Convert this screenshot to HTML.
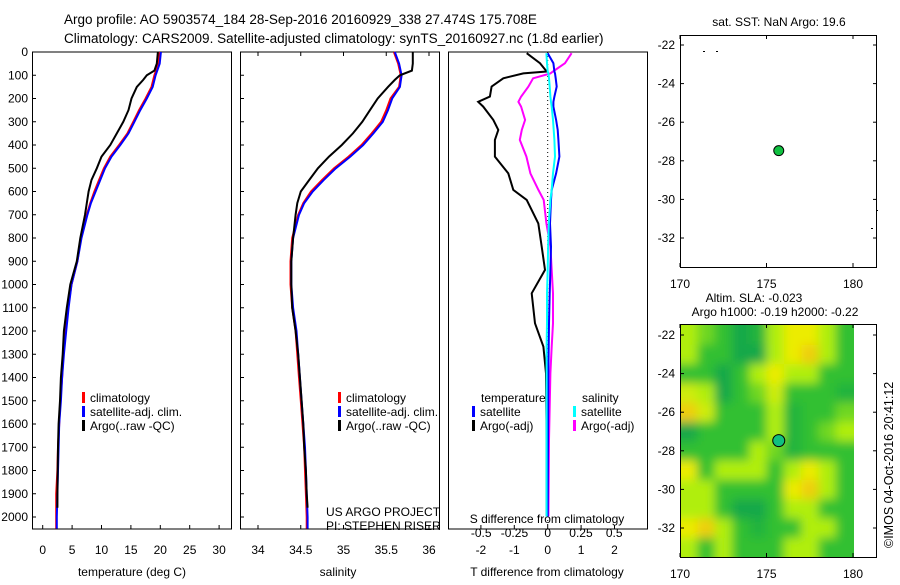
<!DOCTYPE html>
<html><head><meta charset="utf-8"><style>
body{margin:0;background:#fff;width:900px;height:580px;overflow:hidden}
svg text{font-family:"Liberation Sans",sans-serif;font-size:12px;fill:#000}
</style></head><body>
<svg id="c" width="900" height="580" xmlns="http://www.w3.org/2000/svg">
<text x="64" y="24" style="font-size:13.5px">Argo profile: AO 5903574_184 28-Sep-2016 20160929_338 27.474S 175.708E</text>
<text x="64" y="43" style="font-size:13.5px">Climatology: CARS2009. Satellite-adjusted climatology: synTS_20160927.nc (1.8d earlier)</text>
<text transform="translate(893,548) rotate(-90)" style="font-size:12.5px">©IMOS 04-Oct-2016 20:41:12</text>
</svg>
<script>
// ---- data ----
const depths=[0,50,100,150,200,250,300,350,400,450,500,550,600,650,700,800,900,1000,1100,1200,1300,1400,1500,1600,1700,1800,1900,2000,2050];
const tempSat=[20.1,19.9,19.2,18.7,17.7,16.6,15.6,14.6,13.2,11.7,10.6,9.8,9.0,8.2,7.6,6.6,5.9,4.9,4.4,4.0,3.6,3.3,3.1,2.8,2.7,2.6,2.5,2.4,2.4];
const tempClim=[19.9,19.7,19.0,18.5,17.5,16.4,15.4,14.4,13.0,11.5,10.4,9.6,8.8,8.1,7.5,6.5,5.9,4.9,4.3,3.9,3.5,3.3,3.0,2.8,2.6,2.5,2.3,2.3,2.3];
const argoDepths=[0,50,80,100,120,150,200,250,300,350,400,450,500,550,600,650,700,800,900,1000,1100,1200,1300,1400,1500,1600,1700,1800,1900,1960];
const tempArgo=[19.6,19.4,19.0,17.7,17.1,16.0,15.1,14.6,13.7,12.6,11.5,10.0,9.2,8.3,7.8,7.5,7.2,6.4,5.8,4.7,4.1,3.6,3.4,3.1,2.95,2.7,2.6,2.55,2.5,2.5];
const salSat=[35.6,35.65,35.68,35.66,35.57,35.52,35.46,35.35,35.23,35.08,34.91,34.77,34.64,34.54,34.48,34.41,34.39,34.39,34.41,34.45,34.47,34.49,34.51,34.53,34.55,34.56,34.57,34.58,34.58];
const salClim=[35.59,35.64,35.67,35.65,35.55,35.50,35.44,35.33,35.21,35.06,34.89,34.75,34.62,34.53,34.47,34.4,34.38,34.38,34.40,34.44,34.46,34.48,34.50,34.52,34.54,34.55,34.56,34.57,34.57];
const salArgo=[35.81,35.81,35.80,35.66,35.6,35.52,35.40,35.31,35.22,35.11,34.98,34.83,34.70,34.6,34.5,34.46,34.44,34.41,34.39,34.39,34.40,34.44,34.47,34.49,34.51,34.53,34.54,34.56,34.57,34.58];
const diffDepths=[5,48,84,92,113,149,192,214,235,292,335,378,450,522,593,636,737,837,937,1038,1167,1267,1382,1668,1998];
const tDiffArgo=[-0.63,-0.23,-0.03,-0.73,-1.33,-1.68,-1.73,-2.08,-1.93,-1.63,-1.48,-1.58,-1.58,-1.18,-1.03,-0.63,-0.28,-0.18,-0.08,-0.48,-0.38,-0.13,-0.05,-0.03,-0.03];
const tDiffSat=[0,0.17,0.2,0.22,0.24,0.27,0.2,0.17,0.17,0.25,0.3,0.32,0.35,0.25,0.12,0.1,0.07,0.1,0.08,0.06,0.04,0.03,0.02,0.01,0];
const sDiffSat=[-0.01,-0.005,0,0.005,0.01,0.015,0.02,0.025,0.03,0.04,0.045,0.05,0.055,0.04,0.03,0.02,0.008,0.003,0,-0.005,-0.005,-0.008,-0.008,-0.008,-0.008];
const sDiffArgo=[0.18,0.13,0.04,0.02,-0.11,-0.145,-0.2,-0.22,-0.2,-0.17,-0.195,-0.21,-0.16,-0.13,-0.07,-0.03,-0.01,0.02,0.03,0.04,0.04,0.03,0.02,0.01,0.005];
const depthTicks=[0,100,200,300,400,500,600,700,800,900,1000,1100,1200,1300,1400,1500,1600,1700,1800,1900,2000];
const tempTicks=[0,5,10,15,20,25,30];
const salTicks=[34,34.5,35,35.5,36];
const tDiffTicks=[-2,-1,0,1,2];
const sDiffTicks=[-0.5,-0.25,0,0.25,0.5];
const lonTicks=[170,175,180];
const latTicks=[-22,-24,-26,-28,-30,-32];
const floatLon=175.708, floatLat=-27.474;
const slaLons=[170.5,171.5,172.5,173.5,174.5,175.5,176.5,177.5,178.5,179.5];
const slaLats=[-22,-23,-24,-25,-26,-27,-28,-29,-30,-31,-32,-33];
const slaGrid=[
[2,1.5,1,0,0.5,2,3,3,2,1],
[2,1,1,0,0,2,3,3.5,2,1],
[1,1,0,1,2,3,2,2,1,1],
[2.5,2,0,1,1.5,2.5,1,1,1,0.5],
[3.5,2.5,1,1,1,2,0.5,1,1,1.5],
[0,1,1,1,1,2,0.5,1,1.5,2],
[1,1,1,1,2,1.5,0.5,1,1,1],
[3,1,2,2,2,1,2,3,2,1],
[2,2,1,1,1,1,3,3.5,2,1],
[2,2,1,0,0,1,2,2,1,1],
[3,3.5,2,1,0.5,1,1,2,2,1],
[2,1,2,1,1,1,2,2,1,1]];

// ---- helpers ----
const svg=document.getElementById('c');const NS='http://www.w3.org/2000/svg';
function mk(t,a,p){const e=document.createElementNS(NS,t);for(const k in a)e.setAttribute(k,a[k]);(p||svg).appendChild(e);return e;}
function txt(x,y,s,anchor,p,size){const e=mk('text',{x:x,y:y,'text-anchor':anchor||'start'},p);if(size)e.style.fontSize=size+'px';e.textContent=s;return e;}
const TOP=52,BOT=529;
const yD=d=>TOP+d*0.2325;
const xT=v=>42.7+v*5.88;
const xS=v=>258+(v-34)*85.5;
const xTd=v=>547.7+v*33.4;
const xSd=v=>547.7+v*133;
function box(x,y,w,h,name){const r=mk('rect',{x:x,y:y,width:w,height:h,fill:'none',stroke:'#000','stroke-width':1});
 
 }

// ---- panel 1: temperature ----
box(32.5,TOP,199,BOT-TOP,'temperature-panel-frame');
depthTicks.forEach(d=>{mk('line',{x1:32,x2:36,y1:yD(d),y2:yD(d),stroke:'#000'});
 const t=txt(28,yD(d)+4,String(d),'end');
 
 });
tempTicks.forEach(v=>{mk('line',{x1:xT(v),x2:xT(v),y1:BOT,y2:BOT-4,stroke:'#000'});
 const t=txt(xT(v),BOT+25,String(v),'middle');
 
 });
let t1=txt(132,576,'temperature (deg C)','middle');


function prof(vals,dep,fx,color,name){let d='';for(let i=0;i<vals.length;i++){d+=(i?'L':'M')+fx(vals[i]).toFixed(1)+','+yD(dep[i]).toFixed(1);}
 const p=mk('path',{d:d,fill:'none',stroke:color,'stroke-width':2});
 
 }
prof(tempClim,depths,xT,'#f00','temperature-climatology-line');
prof(tempSat,depths,xT,'#00f','temperature-satellite-line');
prof(tempArgo,argoDepths,xT,'#000','temperature-argo-line');
function legend(x,y,items,pname){items.forEach((it,i)=>{mk('rect',{x:x,y:y+i*14-10,width:3,height:11,fill:it[1]});
 const t=txt(x+8,y+i*14,it[0],'start');
 
 });}
legend(82,402,[['climatology','#f00'],['satellite-adj. clim.','#00f'],['Argo(..raw -QC)','#000']],'temperature-legend-entry');

// ---- panel 2: salinity ----
box(240.5,TOP,199,BOT-TOP,'salinity-panel-frame');
depthTicks.forEach(d=>{mk('line',{x1:240,x2:244,y1:yD(d),y2:yD(d),stroke:'#000'});});
salTicks.forEach(v=>{mk('line',{x1:xS(v),x2:xS(v),y1:BOT,y2:BOT-4,stroke:'#000'});mk('line',{x1:xS(v),x2:xS(v),y1:TOP,y2:TOP+4,stroke:'#000'});
 const t=txt(xS(v),BOT+25,String(v),'middle');
 
 });
let t2=txt(338,576,'salinity','middle');


prof(salClim,depths,xS,'#f00','salinity-climatology-line');
prof(salSat,depths,xS,'#00f','salinity-satellite-line');
prof(salArgo,argoDepths,xS,'#000','salinity-argo-line');
legend(338,402,[['climatology','#f00'],['satellite-adj. clim.','#00f'],['Argo(..raw -QC)','#000']],'salinity-legend-entry');
let pj=txt(326,516,'US ARGO PROJECT','start');


let pi=txt(326,530,'PI: STEPHEN RISER','start');



// ---- panel 3: differences ----
box(448.5,TOP,199,BOT-TOP,'difference-panel-frame');
mk('line',{x1:547.7,x2:547.7,y1:TOP,y2:BOT,stroke:'#000','stroke-dasharray':'1,3'});
tDiffTicks.forEach(v=>{mk('line',{x1:xTd(v),x2:xTd(v),y1:BOT,y2:BOT-4,stroke:'#000'});
 const t=txt(xTd(v),BOT+25,String(v),'middle');
 
 });
sDiffTicks.forEach(v=>{const t=txt(xSd(v),537,String(v),'middle');
 
 });
let t3=txt(547,576,'T difference from climatology','middle');


let t4=txt(547,523,'S difference from climatology','middle');


prof(tDiffArgo,diffDepths,xTd,'#000','t-difference-argo-line');
prof(sDiffArgo,diffDepths,xSd,'#f0f','s-difference-argo-line');
prof(tDiffSat,diffDepths,xTd,'#00f','t-difference-satellite-line');
prof(sDiffSat,diffDepths,xSd,'#0ff','s-difference-satellite-line');
let lt=txt(481,402,'temperature','start');


let ls=txt(582,402,'salinity','start');


legend(472,416,[['satellite','#00f'],['Argo(-adj)','#000']],'t-diff-legend-entry');
legend(573,416,[['satellite','#0ff'],['Argo(-adj)','#f0f']],'s-diff-legend-entry');

// ---- maps ----
const xL=v=>680+(v-170)*17.3;
function mapAxes(top,bot,lat22,lat32,name){
  const yL=v=>lat22+(v+22)*(lat32-lat22)/-10;
  box(680.5,top+0.5,196,bot-top,name+'-frame');
  latTicks.forEach(v=>{mk('line',{x1:680,x2:684,y1:yL(v),y2:yL(v),stroke:'#000'});mk('line',{x1:877,x2:873,y1:yL(v),y2:yL(v),stroke:'#000'});
   const t=txt(675,yL(v)+4,String(v),'end');
   
   });
  lonTicks.forEach(v=>{mk('line',{x1:xL(v),x2:xL(v),y1:bot,y2:bot-4,stroke:'#000'});mk('line',{x1:xL(v),x2:xL(v),y1:top,y2:top+4,stroke:'#000'});
   const t=txt(xL(v),bot+21,String(v),'middle');
   
   });
  return yL;
}
// SLA heatmap
const defs=mk('defs',{});
const cp=mk('clipPath',{id:'clip'},defs);mk('rect',{x:681,y:325,width:173,height:232},cp);
const f=mk('filter',{id:'blur',filterUnits:'userSpaceOnUse',x:660,y:300,width:220,height:280},defs);mk('feGaussianBlur',{stdDeviation:5},f);
const cols=['#12a848','#30c030','#b0ee10','#ecec00','#f0b010'];
function col(v){const i=Math.max(0,Math.min(3,Math.floor(v)));const t=v-i;const a=cols[i],b=cols[i+1];
 const p=s=>parseInt(s,16);let r='#';for(let k=1;k<7;k+=2){const c=Math.round(p(a.substr(k,2))*(1-t)+p(b.substr(k,2))*t);r+=c.toString(16).padStart(2,'0');}return r;}
const yLb=v=>335+(v+22)*(528-335)/-10;
const g0=mk('g',{'clip-path':'url(#clip)'});
mk('rect',{x:681,y:325,width:173,height:232,fill:'#40c038'},g0);
const g=mk('g',{filter:'url(#blur)'},g0);
slaLats.forEach((la,i)=>slaLons.forEach((lo,j)=>{
  const ex0=j===0?12:0, ex1=j===slaLons.length-1?12:0, ey0=i===0?12:0, ey1=i===slaLats.length-1?12:0;
  const c=mk('rect',{x:xL(lo-0.5)-ex0,y:yLb(la+0.5)-ey0,width:17.3+ex0+ex1+0.5,height:19.3+ey0+ey1+0.5,fill:col(slaGrid[i][j])},g);
  
  
}));
const yTop=mapAxes(35,267,45,238,'sst-map');
mapAxes(324,557,335,528,'sla-map');
let m1=mk('circle',{cx:xL(floatLon),cy:yTop(floatLat),r:5,fill:'#10c040',stroke:'#000'});


let m2=mk('circle',{cx:xL(floatLon),cy:yLb(floatLat),r:6,fill:'#10c080',stroke:'#000'});


[[703,51],[716,51],[871,228],[876,210]].forEach(p=>mk('rect',{x:p[0],y:p[1],width:2,height:1,fill:'#000'}));
let s1=txt(779,26,'sat. SST: NaN Argo: 19.6','middle');


let s2=txt(754,302,'Altim. SLA: -0.023','middle');


let s3=txt(775,316,'Argo h1000: -0.19 h2000: -0.22','middle');


</script>
</body></html>
